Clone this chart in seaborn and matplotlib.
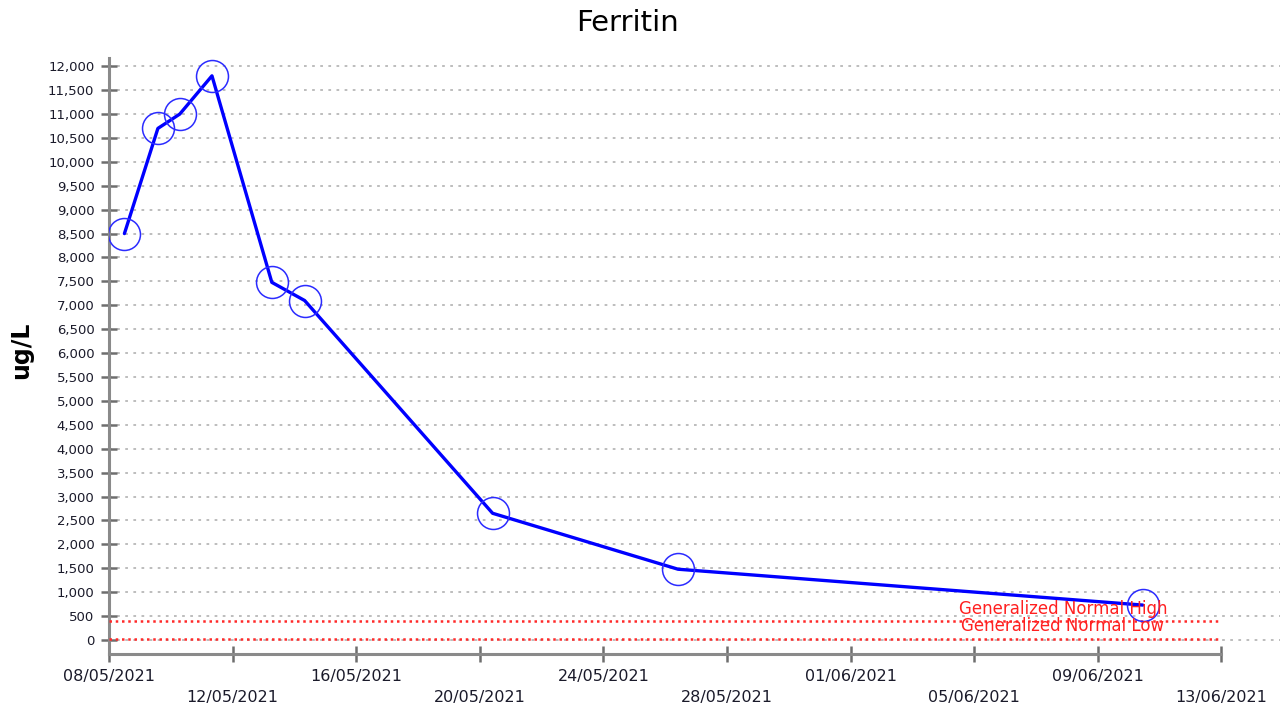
import matplotlib
matplotlib.use("Agg")
import matplotlib.pyplot as plt
import matplotlib.dates as mdates
import matplotlib.ticker as mticker
import pandas as pd
import seaborn as sns

# ferritin results (ug/L)
dates = ["2021-05-08 12:00", "2021-05-09 14:00", "2021-05-10 07:00",
         "2021-05-11 08:00", "2021-05-13 06:30", "2021-05-14 08:00",
         "2021-05-20 10:00", "2021-05-26 10:00", "2021-06-10 11:00"]
values = [8500, 10700, 11000, 11800, 7480, 7100, 2650, 1480, 730]

normal_high = 400
normal_low = 30

tick_dates = ["2021-05-08", "2021-05-12", "2021-05-16", "2021-05-20",
              "2021-05-24", "2021-05-28", "2021-06-01", "2021-06-05",
              "2021-06-09", "2021-06-13"]

df = pd.DataFrame({"date": pd.to_datetime(dates), "value": values})
ticks = pd.to_datetime(tick_dates)

sns.set_style("white")
plt.rcParams["font.family"] = ["DejaVu Sans"]

fig = plt.figure(figsize=(12.85, 7.08), dpi=100)
ax = fig.add_axes([0.0848, 0.0763, 0.9113, 0.842])

# data line with open circles
sns.lineplot(data=df, x="date", y="value", ax=ax, color="#0000ff", lw=2.4,
             marker="o", markersize=23, markerfacecolor="none",
             markeredgecolor="#2b2bff", markeredgewidth=1.1, zorder=5)

x0 = ticks[0]
x_end = ticks[-1]
ax.set_xlim(x0, x0 + pd.Timedelta(days=37.9))
ax.set_ylim(-293, 12176)

# reference range lines
ax.hlines([normal_high, normal_low], x0, x_end, colors="#ff2a2a",
          linestyles=(0, (1, 1.5)), lw=1.8, zorder=3)
lbl_x = x0 + pd.Timedelta(days=30.87)
ax.text(lbl_x, 650, "Generalized Normal High", color="#ff2020",
        fontsize=12, ha="center", va="center", zorder=6)
ax.text(lbl_x, 290, "Generalized Normal Low", color="#ff2020",
        fontsize=12, ha="center", va="center", zorder=6)

# y axis
ax.yaxis.set_major_locator(mticker.MultipleLocator(500))
ax.yaxis.set_major_formatter(mticker.FuncFormatter(lambda v, p: f"{int(v):,}"))
ax.grid(axis="y", color="#b8b8b8", linestyle=(0, (1.5, 3)), lw=1.3)
ax.grid(axis="x", visible=False)

# x axis with staggered labels
ax.set_xticks(ticks)
labels = [d.strftime("%d/%m/%Y") if i % 2 == 0 else "\n" + d.strftime("%d/%m/%Y")
          for i, d in enumerate(ticks)]
ax.set_xticklabels(labels)
for lbl in ax.get_xticklabels():
    lbl.set_linespacing(1.55)

ax.tick_params(axis="both", direction="inout", length=11, width=1.8,
               color="#6e6e6e", labelcolor="#1a1a2a", bottom=True, left=True)
ax.tick_params(axis="x", labelsize=11.5, pad=5)
ax.tick_params(axis="y", labelsize=9.5, pad=5)

for side in ["top", "right"]:
    ax.spines[side].set_visible(False)
for side in ["left", "bottom"]:
    ax.spines[side].set_color("#8a8a8a")
    ax.spines[side].set_linewidth(2.2)
ax.spines["bottom"].set_bounds(mdates.date2num(x0), mdates.date2num(x_end))

ax.set_xlabel("")
ax.set_ylabel("ug/L", fontsize=17, fontweight="bold", color="black")
ax.yaxis.set_label_coords(-0.065, 0.51)
fig.text(0.488, 0.968, "Ferritin", fontsize=21, ha="center", va="center",
         color="black")

plt.savefig("out.png", dpi=100)
